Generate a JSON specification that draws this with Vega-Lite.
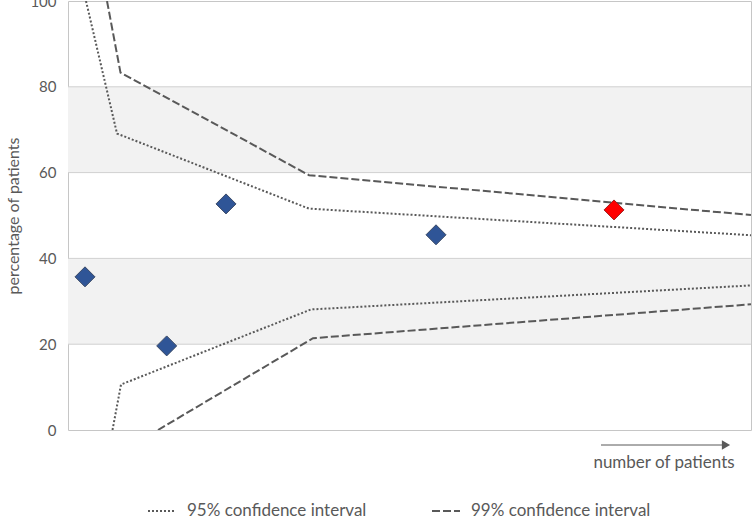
{
  "$schema": "https://vega.github.io/schema/vega-lite/v6.json",
  "width": 683,
  "height": 429,
  "autosize": "none",
  "padding": {"left": 68, "top": 1, "right": 1, "bottom": 90},
  "background": "white",
  "config": {
    "view": {"stroke": "#c6c6c6", "strokeWidth": 1},
    "font": "Lato",
    "axisY": {
      "grid": false, "ticks": false, "domain": false,
      "labelPadding": 12, "labelFontSize": 15, "labelColor": "#595959", "labelFont": "Lato",
      "titleFont": "Lato", "titleFontWeight": "normal",
      "titleFontSize": 16, "titleColor": "#595959", "titlePadding": 8
    }
  },
  "datasets": {
    "bands": [{"lo": 20, "hi": 40}, {"lo": 60, "hi": 80}],
    "grid": [{"g": 20}, {"g": 40}, {"g": 60}, {"g": 80}],
    "ci": [
      {"ci": "95% confidence interval", "side": "upper", "n": 18, "pct": 100},
      {"ci": "95% confidence interval", "side": "upper", "n": 49, "pct": 69.1},
      {"ci": "95% confidence interval", "side": "upper", "n": 241, "pct": 51.6},
      {"ci": "95% confidence interval", "side": "upper", "n": 683, "pct": 45.4},
      {"ci": "95% confidence interval", "side": "lower", "n": 44.5, "pct": 0},
      {"ci": "95% confidence interval", "side": "lower", "n": 53, "pct": 10.6},
      {"ci": "95% confidence interval", "side": "lower", "n": 243, "pct": 28.1},
      {"ci": "95% confidence interval", "side": "lower", "n": 683, "pct": 33.7},
      {"ci": "99% confidence interval", "side": "upper", "n": 39, "pct": 100},
      {"ci": "99% confidence interval", "side": "upper", "n": 52.5, "pct": 83.3},
      {"ci": "99% confidence interval", "side": "upper", "n": 241, "pct": 59.4},
      {"ci": "99% confidence interval", "side": "upper", "n": 683, "pct": 50.1},
      {"ci": "99% confidence interval", "side": "lower", "n": 90, "pct": 0},
      {"ci": "99% confidence interval", "side": "lower", "n": 245, "pct": 21.4},
      {"ci": "99% confidence interval", "side": "lower", "n": 683, "pct": 29.3}
    ],
    "pts": [
      {"n": 17, "pct": 35.7, "status": "normal"},
      {"n": 98.7, "pct": 19.6, "status": "normal"},
      {"n": 158, "pct": 52.7, "status": "normal"},
      {"n": 368, "pct": 45.5, "status": "normal"},
      {"n": 546, "pct": 51.3, "status": "flag"}
    ]
  },
  "resolve": {"axis": {"y": "shared"}},
  "layer": [
    {
      "data": {"name": "bands"},
      "mark": {"type": "rect", "color": "#f2f2f2"},
      "encoding": {
        "x": {"datum": 0, "type": "quantitative", "scale": {"domain": [0, 683], "nice": false, "zero": false}, "axis": null},
        "x2": {"datum": 683},
        "y": {"field": "lo", "type": "quantitative", "scale": {"domain": [0, 100], "nice": false},
          "axis": {"values": [0, 20, 40, 60, 80, 100], "title": "percentage of patients"}},
        "y2": {"field": "hi"}
      }
    },
    {
      "data": {"name": "grid"},
      "mark": {"type": "rule", "color": "#d0d0d0", "strokeWidth": 1},
      "encoding": {
        "y": {"field": "g", "type": "quantitative", "axis": {"values": [0, 20, 40, 60, 80, 100], "title": "percentage of patients"}}
      }
    },
    {
      "data": {"name": "ci"},
      "mark": {"type": "line", "color": "#595959", "strokeWidth": 2, "clip": true},
      "encoding": {
        "x": {"field": "n", "type": "quantitative", "axis": null},
        "y": {"field": "pct", "type": "quantitative", "axis": {"values": [0, 20, 40, 60, 80, 100], "title": "percentage of patients"}},
        "detail": {"field": "side"},
        "strokeDash": {
          "field": "ci", "type": "nominal",
          "scale": {"domain": ["95% confidence interval", "99% confidence interval"], "range": [[2, 2], [8, 3]]},
          "legend": {
            "title": null, "orient": "none", "direction": "horizontal",
            "legendX": 79, "legendY": 495, "padding": 0,
            "symbolType": "stroke", "symbolSize": 784, "symbolStrokeWidth": 2,
            "symbolStrokeColor": "#595959", "labelFont": "Lato", "labelFontSize": 17,
            "labelColor": "#595959", "labelOffset": 10, "columnPadding": 61, "labelLimit": 400
          }
        }
      }
    },
    {
      "data": {"name": "pts"},
      "mark": {"type": "point", "shape": "diamond", "filled": true, "size": 400, "opacity": 1, "strokeWidth": 1},
      "encoding": {
        "x": {"field": "n", "type": "quantitative", "axis": null},
        "y": {"field": "pct", "type": "quantitative", "axis": {"values": [0, 20, 40, 60, 80, 100], "title": "percentage of patients"}},
        "fill": {"field": "status", "type": "nominal", "scale": {"domain": ["normal", "flag"], "range": ["#2f5597", "#ff0000"]}, "legend": null},
        "stroke": {"field": "status", "type": "nominal", "scale": {"domain": ["normal", "flag"], "range": ["#3b4a66", "#a02020"]}, "legend": null}
      }
    },
    {
      "data": {"values": [{}]},
      "mark": {"type": "rule", "color": "#595959", "strokeWidth": 1},
      "encoding": {
        "x": {"datum": 533, "type": "quantitative", "axis": null},
        "x2": {"datum": 656},
        "y": {"datum": -3.5, "type": "quantitative", "axis": {"values": [0, 20, 40, 60, 80, 100], "title": "percentage of patients"}}
      }
    },
    {
      "data": {"values": [{}]},
      "mark": {"type": "point", "shape": "triangle-right", "filled": true, "color": "#595959", "size": 90, "opacity": 1},
      "encoding": {
        "x": {"datum": 658, "type": "quantitative", "axis": null},
        "y": {"datum": -3.5, "type": "quantitative", "axis": {"values": [0, 20, 40, 60, 80, 100], "title": "percentage of patients"}}
      }
    },
    {
      "data": {"values": [{}]},
      "mark": {"type": "text", "text": "number of patients", "font": "Lato", "fontSize": 17, "color": "#595959", "align": "center", "baseline": "middle"},
      "encoding": {
        "x": {"datum": 596, "type": "quantitative", "axis": null},
        "y": {"datum": -7.7, "type": "quantitative", "axis": {"values": [0, 20, 40, 60, 80, 100], "title": "percentage of patients"}}
      }
    }
  ]
}
